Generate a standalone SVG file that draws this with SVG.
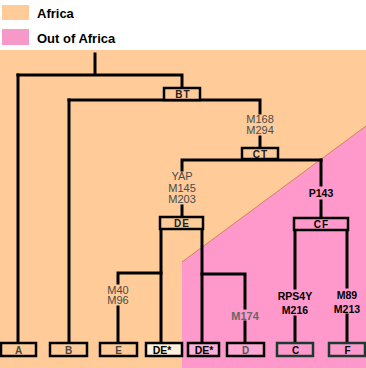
<svg xmlns="http://www.w3.org/2000/svg" width="366" height="368" viewBox="0 0 366 368">
<style>
.leg{font-family:"Liberation Sans",Arial,sans-serif;font-size:13px;font-weight:bold;fill:#000}
.mut{font-family:"Liberation Sans",Arial,sans-serif;font-size:11px;fill:#4a4a4a;text-anchor:middle}
.mutb{font-family:"Liberation Sans",Arial,sans-serif;font-size:10.5px;font-weight:bold;fill:#000;text-anchor:middle}
.bl{font-family:"Liberation Sans",Arial,sans-serif;font-size:10px;font-weight:bold;fill:#222;text-anchor:middle;letter-spacing:1px}
.blk{font-family:"Liberation Sans",Arial,sans-serif;font-size:10.5px;font-weight:bold;fill:#000;text-anchor:middle}
.bx{stroke:#000;stroke-width:2.5}
.bxg{stroke:#1a3a30;stroke-width:2.5}
.ln{stroke:#000;stroke-width:3;fill:none;stroke-linecap:square}
</style>
<rect x="0" y="0" width="366" height="368" fill="#fff"/>
<rect x="0" y="50" width="366" height="318" fill="#FFCC99"/>
<polygon points="366,126 182,262 182,368 366,368" fill="#FF99CC"/>
<line x1="366" y1="126" x2="182" y2="262" stroke="#c07848" stroke-width="0.8"/>
<g id="legend">
<rect x="2" y="5" width="27" height="15" fill="#FFCC99"/>
<text class="leg" x="37" y="18">Africa</text>
<rect x="2" y="29" width="27" height="16" fill="#F799C8"/>
<text class="leg" x="37" y="43">Out of Africa</text>
</g>
<g id="connectors">
<path class="ln" d="M95,54 V75 M18,75 H182 V88"/>
<path class="ln" d="M18,75 V343"/>
<path class="ln" d="M69,100 H260 V113 M260,137 V148"/>
<path class="ln" d="M69,100 V343"/>
<path class="ln" d="M182,160 H321 M182,160 V170 M182,206 V217"/>
<path class="ln" d="M321,160 V185 M321,201 V218"/>
<path class="ln" d="M161,229 V343 M202,229 V343"/>
<path class="ln" d="M161,273 H118 V283 M118,307 V343"/>
<path class="ln" d="M202,274 H245 V308 M245,322 V343"/>
<path class="ln" d="M295,230 V288 M295,317 V343"/>
<path class="ln" d="M347,230 V287 M347,315 V343"/>
</g>
<g id="BT">
<rect class="bx" x="164" y="88" width="36" height="12" fill="#FFCC99"/>
<text class="bl" x="183" y="98">BT</text>
</g>
<g id="m168">
<text class="mut" x="260" y="123">M168</text>
<text class="mut" x="260" y="134">M294</text>
</g>
<g id="CT">
<rect class="bx" x="242" y="148" width="36" height="11" fill="#FFCC99"/>
<text class="bl" x="260.5" y="157.5">CT</text>
</g>
<g id="yap">
<text class="mut" x="182" y="180">YAP</text>
<text class="mut" x="182" y="191.5">M145</text>
<text class="mut" x="182" y="203">M203</text>
</g>
<g id="DE">
<rect class="bx" x="160" y="217" width="43" height="12" fill="#FFCC99"/>
<text class="bl" x="182" y="227">DE</text>
</g>
<g id="p143">
<text class="mutb" x="321" y="197">P143</text>
</g>
<g id="CF">
<rect class="bx" x="294" y="218" width="54" height="12" fill="#FF99CC"/>
<text class="bl" x="321.5" y="228" style="fill:#000">CF</text>
</g>
<g id="m40">
<text class="mut" x="118" y="293.5">M40</text>
<text class="mut" x="118" y="304">M96</text>
</g>
<g id="m174">
<text class="mut" x="245" y="319.5" style="font-weight:bold;fill:#666">M174</text>
</g>
<g id="rps4y">
<text class="mutb" x="295" y="300">RPS4Y</text>
<text class="mutb" x="295" y="314">M216</text>
</g>
<g id="m89">
<text class="mutb" x="347" y="298.5">M89</text>
<text class="mutb" x="347" y="312.5">M213</text>
</g>
<g id="A">
<rect class="bx" x="1" y="343" width="35" height="13" fill="#FFCC99"/>
<text class="bl" x="19" y="353.5" style="fill:#444">A</text>
</g>
<g id="B">
<rect class="bx" x="50" y="343" width="37" height="13" fill="#FFCC99"/>
<text class="bl" x="69" y="353.5" style="fill:#444">B</text>
</g>
<g id="E">
<rect class="bx" x="100" y="343" width="37" height="13" fill="#FFCC99"/>
<text class="bl" x="119" y="353.5" style="fill:#444">E</text>
</g>
<g id="DEstar1">
<rect class="bx" x="146" y="343" width="36" height="13" fill="#FFF0DC"/>
<text class="blk" x="162" y="354">DE*</text>
</g>
<g id="DEstar2">
<rect class="bx" x="188" y="343" width="31" height="13" fill="#FFB0D8"/>
<text class="blk" x="204" y="354">DE*</text>
</g>
<g id="D">
<rect class="bx" x="227" y="343" width="37" height="13" fill="#FFA8D4"/>
<text class="bl" x="246" y="353.5" style="fill:#555">D</text>
</g>
<g id="C">
<rect class="bxg" x="277" y="343" width="36" height="13" fill="#FF99CC"/>
<text class="bl" x="296" y="353.5" style="fill:#000">C</text>
</g>
<g id="F">
<rect class="bxg" x="329" y="343" width="36" height="13" fill="#FF99CC"/>
<text class="bl" x="348" y="353.5" style="fill:#000">F</text>
</g>
</svg>
